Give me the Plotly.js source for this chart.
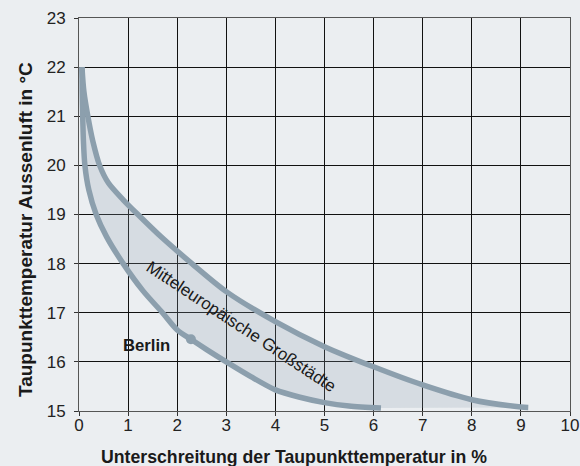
<!DOCTYPE html>
<html>
<head>
<meta charset="utf-8">
<script src="https://cdn.plot.ly/plotly-3.0.1.min.js"></script>
<style>html,body{margin:0;padding:0;background:#ebeef1;}#chart{width:580px;height:466px;}</style>
</head>
<body>
<div id="chart"></div>
<script>
// Berlin curve (lower)
const berlinX = [0.06, 0.065, 0.075, 0.09, 0.12, 0.2, 0.35, 0.56, 0.9, 1.3, 1.7, 2.0, 2.28, 2.6, 3.0, 3.5, 4.0, 4.5, 5.0, 5.5, 6.15];
const berlinY = [22, 21.5, 21, 20.5, 20, 19.5, 19.0, 18.55, 18.0, 17.45, 17.0, 16.65, 16.46, 16.25, 16.0, 15.7, 15.43, 15.28, 15.17, 15.1, 15.06];
// Mitteleuropäische Großstädte (upper)
const citiesX = [0.06, 0.1, 0.18, 0.28, 0.42, 0.6, 0.9, 1.2, 1.7, 2.3, 3.0, 4.0, 5.0, 6.0, 7.0, 8.0, 9.0, 9.15];
const citiesY = [22, 21.5, 21, 20.5, 20, 19.64, 19.3, 19.0, 18.52, 18.0, 17.43, 16.82, 16.31, 15.9, 15.53, 15.23, 15.08, 15.07];
// Berlin marker
const berlinPointX = [2.28];
const berlinPointY = [16.46];
// ticks
const xTicks = [0, 1, 2, 3, 4, 5, 6, 7, 8, 9, 10];
const yTicks = [15, 16, 17, 18, 19, 20, 21, 22, 23];
const xTitle = "Unterschreitung der Taupunkttemperatur in %";
const yTitle = "Taupunkttemperatur Aussenluft in °C";
const bandLabel = "Mitteleuropäische Großstädte";
const berlinLabel = "Berlin";

const curveColor = "rgb(140,159,173)";
const font = "Liberation Sans, Arial, Helvetica, sans-serif";

const traces = [
  {x: berlinX, y: berlinY, type: "scatter", mode: "lines",
   line: {color: curveColor, width: 5.5, shape: "spline", smoothing: 0.8}, hoverinfo: "skip"},
  {x: citiesX, y: citiesY, type: "scatter", mode: "lines", fill: "tonexty",
   fillcolor: "rgba(140,159,173,0.22)",
   line: {color: curveColor, width: 5.5, shape: "spline", smoothing: 0.8}, hoverinfo: "skip"},
  {x: berlinPointX, y: berlinPointY, type: "scatter", mode: "markers",
   marker: {color: curveColor, size: 10}, hoverinfo: "skip"}
];

const axisCommon = {
  showgrid: true, gridcolor: "#111", gridwidth: 1,
  showline: true, linecolor: "#555", linewidth: 1, mirror: true,
  ticks: "outside", ticklen: 4, tickcolor: "#333", tickwidth: 1,
  zeroline: false, fixedrange: true,
  tickfont: {family: font, size: 17, color: "#222"}
};

const layout = {
  width: 580, height: 466,
  margin: {l: 79, r: 10, t: 18, b: 55},
  paper_bgcolor: "#ebeef1", plot_bgcolor: "#ebeef1",
  showlegend: false,
  xaxis: Object.assign({}, axisCommon, {range: [0, 10], tickvals: xTicks, ticktext: xTicks.map(String), ticklabelstandoff: -5}),
  yaxis: Object.assign({}, axisCommon, {range: [15, 23], tickvals: yTicks, ticktext: yTicks.map(String), ticklabelstandoff: 5}),
  annotations: [
    {text: "<b>" + xTitle + "</b>", xref: "paper", yref: "paper", x: 0.437, y: -0.117,
     xanchor: "center", yanchor: "middle", showarrow: false,
     font: {family: font, size: 17.7, color: "#1a1a1a"}},
    {text: "<b>" + yTitle + "</b>", xref: "paper", yref: "paper", x: -0.11, y: 0.463,
     xanchor: "center", yanchor: "middle", showarrow: false, textangle: -90,
     font: {family: font, size: 19, color: "#1a1a1a"}},
    {text: "<b>" + berlinLabel + "</b>", xref: "x", yref: "y", x: 1.38, y: 16.34,
     xanchor: "center", yanchor: "middle", showarrow: false,
     font: {family: font, size: 16.7, color: "#1a1a1a"}},
    {text: bandLabel, xref: "x", yref: "y", x: 3.3, y: 16.73,
     xanchor: "center", yanchor: "middle", showarrow: false, textangle: 33.4,
     font: {family: font, size: 17, color: "#1a1a1a"}}
  ]
};

Plotly.newPlot("chart", traces, layout, {displayModeBar: false, staticPlot: true});
</script>
</body>
</html>
